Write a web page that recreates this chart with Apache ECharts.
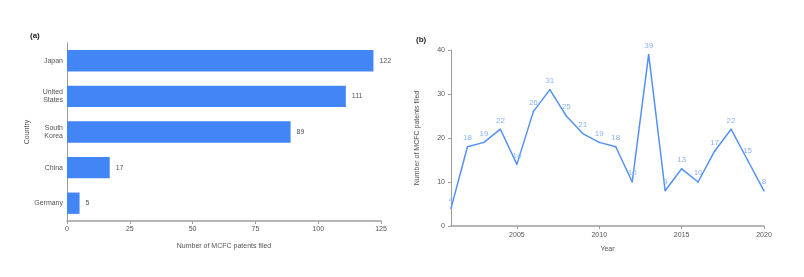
<!DOCTYPE html>
<html><head><meta charset="utf-8">
<script src="https://cdn.jsdelivr.net/npm/echarts@6/dist/echarts.min.js"></script>
<style>html,body{margin:0;padding:0;background:#fff}#c{width:804px;height:277px}</style>
</head><body><div id="c"></div>
<script>
const countries = ['Japan', 'United\nStates', 'South\nKorea', 'China', 'Germany'];
const countryPatents = [122, 111, 89, 17, 5];
const years = ['2001','2002','2003','2004','2005','2006','2007','2008','2009','2010','2011','2012','2013','2014','2015','2016','2017','2018','2019','2020'];
const yearPatents = [4, 18, 19, 22, 14, 26, 31, 25, 21, 19, 18, 10, 39, 8, 13, 10, 17, 22, 15, 8];

const FONT = 'Liberation Sans, Arial, sans-serif';
const axisGray = '#9e9e9e';
const txt = '#555';
const chart = echarts.init(document.getElementById('c'), null, {renderer: 'canvas'});
chart.setOption({
  backgroundColor: '#ffffff',
  animation: false,
  textStyle: {fontFamily: FONT},
  title: [
    {text: '(a)', left: 25, top: 27, textStyle: {fontSize: 8, fontWeight: 'bold', color: '#222', fontFamily: FONT}},
    {text: '(b)', left: 411, top: 31, textStyle: {fontSize: 8, fontWeight: 'bold', color: '#222', fontFamily: FONT}}
  ],
  grid: [
    {left: 67, top: 43, width: 314, height: 178},
    {left: 451, top: 50, width: 313, height: 176}
  ],
  xAxis: [
    {gridIndex: 0, type: 'value', min: 0, max: 125, interval: 25,
     name: 'Number of MCFC patents filed', nameLocation: 'middle', nameGap: 22,
     nameTextStyle: {fontSize: 7, color: txt},
     axisLine: {show: true, lineStyle: {color: axisGray, width: 1.5}},
     axisTick: {show: true, length: 3, lineStyle: {color: axisGray}},
     axisLabel: {fontSize: 7, color: txt, margin: 5},
     splitLine: {show: false}},
    {gridIndex: 1, type: 'category', data: years, boundaryGap: false,
     name: 'Year', nameLocation: 'middle', nameGap: 20,
     nameTextStyle: {fontSize: 7, color: txt},
     axisLine: {show: true, lineStyle: {color: axisGray, width: 1.5}},
     axisTick: {show: true, length: 3, interval: (i, v) => Number(v) % 5 === 0, lineStyle: {color: axisGray}},
     axisLabel: {fontSize: 7, color: txt, margin: 6, interval: (i, v) => Number(v) % 5 === 0},
     splitLine: {show: false}}
  ],
  yAxis: [
    {gridIndex: 0, type: 'category', data: countries, inverse: true,
     name: 'Country', nameLocation: 'middle', nameGap: 30,
     nameTextStyle: {fontSize: 7, color: txt},
     axisLine: {show: true, lineStyle: {color: axisGray, width: 1}},
     axisTick: {show: false},
     axisLabel: {fontSize: 7, color: txt, margin: 4, lineHeight: 8}},
    {gridIndex: 1, type: 'value', min: 0, max: 40, interval: 10,
     name: 'Number of MCFC patents filed', nameLocation: 'middle', nameGap: 30,
     nameTextStyle: {fontSize: 7, color: txt},
     axisLine: {show: true, lineStyle: {color: axisGray, width: 1}},
     axisTick: {show: true, length: 3, lineStyle: {color: axisGray}},
     axisLabel: {fontSize: 7, color: txt, margin: 6},
     splitLine: {show: false}}
  ],
  series: [
    {type: 'bar', xAxisIndex: 0, yAxisIndex: 0, data: countryPatents,
     barCategoryGap: '40%',
     itemStyle: {color: '#4285f4'},
     label: {show: true, position: 'right', distance: 6, fontSize: 7, color: txt}},
    {type: 'line', xAxisIndex: 1, yAxisIndex: 1, data: yearPatents,
     symbol: 'circle', symbolSize: 1.5, showSymbol: true, showAllSymbol: true,
     itemStyle: {color: '#5591f5'},
     lineStyle: {color: '#5591f5', width: 1.5},
     label: {show: true, position: 'top', distance: 4, fontSize: 8, color: '#8ab4f8'},
     labelLayout: {hideOverlap: false}}
  ]
});
</script></body></html>
